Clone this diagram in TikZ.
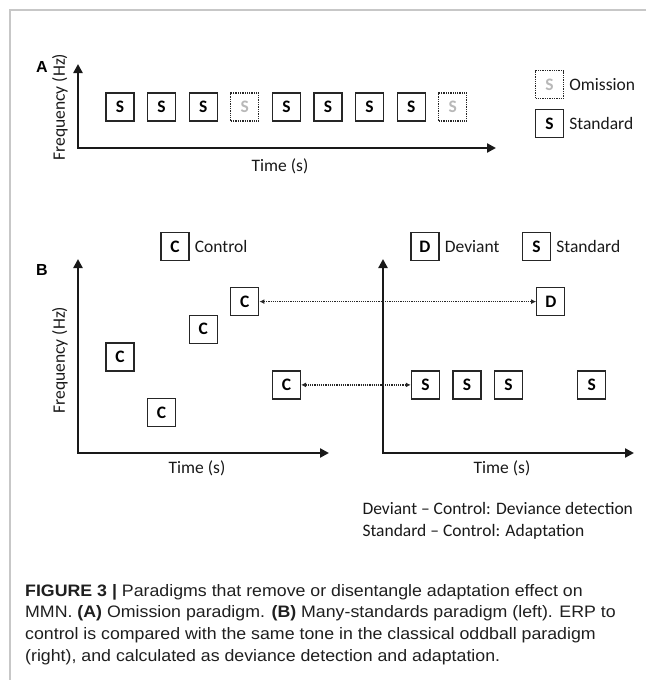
\documentclass[tikz,border=0pt]{standalone}
\usepackage{fontspec}
\setmainfont{Carlito}
\newfontfamily\capfont[FakeStretch=1.07]{Liberation Sans}
\newfontfamily\panelfont{Liberation Sans}
\usetikzlibrary{positioning}
\usetikzlibrary{arrows.meta}
\tikzset{tone/.style={draw=black!85, line width=1.3pt, minimum size=28pt, inner sep=0pt, font=\fontsize{17.5}{17.5}\selectfont\bfseries}}
\tikzset{omit/.style={tone, densely dotted, text=black!28}}
\tikzset{axis/.style={line width=2.7pt, draw=black!90, line join=miter, {Triangle[length=9pt,width=9pt]}-{Triangle[length=9pt,width=9pt]}}}
\tikzset{link/.style={densely dotted, line width=1.2pt, draw=black!85, {Latex[length=5pt,width=5pt]}-{Latex[length=5pt,width=5pt]}}}
\tikzset{lbl/.style={font=\fontsize{17.5}{17.5}\selectfont, text=black!90}}
\tikzset{panel/.style={font=\panelfont\bfseries\fontsize{16}{16}\selectfont}}

\begin{document}
\begin{tikzpicture}[x=1pt, y=-1pt, on grid]
    \useasboundingbox (0,0) rectangle (646,680);
    \coordinate (fr1) at (646,10);
    \coordinate (fr2) at (10,10);
    \coordinate (fr3) at (10,680);
    \draw[black!22, line width=1.5pt] (fr1) -- (fr2) -- (fr3);

    % A: omission paradigm
    \node[panel] (pa) at (42,67) {A};
    \coordinate (oA) at (78,148);
    \coordinate (yA) at (78,64);
    \coordinate (xA) at (496,148);
    \draw[axis] (yA) -- (oA) -- (xA);
    \node[lbl, rotate=90] (fA) at (60,107) {Frequency (Hz)};
    \node[lbl] (tA) at (280,166) {Time (s)};

    \node[tone] (s1) at (120,107) {S};
    \node[tone, right=41.6pt of s1] (s2) {S};
    \node[tone, right=41.6pt of s2] (s3) {S};
    \node[omit, right=41.6pt of s3] (s4) {S};
    \node[tone, right=41.6pt of s4] (s5) {S};
    \node[tone, right=41.6pt of s5] (s6) {S};
    \node[tone, right=41.6pt of s6] (s7) {S};
    \node[tone, right=41.6pt of s7] (s8) {S};
    \node[omit, right=41.6pt of s8] (s9) {S};

    \node[omit] (om) at (549.5,84.5) {S};
    \node[tone, below=39pt of om] (st) {S};
    \node[lbl, anchor=west, inner sep=5pt] (omt) at (om.east) {Omission};
    \node[lbl, anchor=west, inner sep=5pt] (stt) at (st.east) {Standard};

    % B: many-standards vs oddball
    \node[panel] (pb) at (42,270) {B};
    \node[tone] (lc) at (175,246.5) {C};
    \node[lbl, anchor=west, inner sep=5pt] (lct) at (lc.east) {Control};
    \node[tone] (ld) at (425,246.5) {D};
    \node[lbl, anchor=west, inner sep=5pt] (ldt) at (ld.east) {Deviant};
    \node[tone, right=111.5pt of ld] (ls) {S};
    \node[lbl, anchor=west, inner sep=5pt] (lst) at (ls.east) {Standard};

    \coordinate (oB) at (78,453);
    \coordinate (yB) at (78,259);
    \coordinate (xB) at (329,453);
    \draw[axis] (yB) -- (oB) -- (xB);
    \coordinate (oC) at (383,453);
    \coordinate (yC) at (383,259);
    \coordinate (xC) at (634,453);
    \draw[axis] (yC) -- (oC) -- (xC);
    \node[lbl, rotate=90] (fB) at (60,360) {Frequency (Hz)};
    \node[lbl] (tB) at (197,468) {Time (s)};
    \node[lbl] (tC) at (502,468) {Time (s)};

    \node[tone] (c1) at (120,357) {C};
    \node[tone, below right=55.4pt and 41.6pt of c1] (c2) {C};
    \node[tone, above right=27.7pt and 83.2pt of c1] (c3) {C};
    \node[tone, above right=27.7pt and 41.6pt of c3] (c4) {C};
    \node[tone, below right=83.3pt and 41.6pt of c4] (c5) {C};

    \node[tone, right=306pt of c4] (d1) {D};
    \node[tone, right=139pt of c5] (o1) {S};
    \node[tone, right=41.6pt of o1] (o2) {S};
    \node[tone, right=41.6pt of o2] (o3) {S};
    \node[tone, right=83.2pt of o3] (o4) {S};

    \draw[link] (c4) -- (d1);
    \draw[link] (c5) -- (o1);

    \node[lbl, anchor=west, align=left, font=\fontsize{17.5}{22}\selectfont] (note) at (359,521)
     {Deviant – Control: Deviance detection\\Standard – Control: Adaptation};

    % caption
    \node[anchor=north west, align=left, inner sep=0pt, text=black!88,
     font=\capfont\fontsize{16.6}{21.7}\selectfont] (cap) at (25,584)
     {\textbf{FIGURE 3 |} Paradigms that remove or disentangle adaptation effect on\\
      MMN. \textbf{(A)} Omission paradigm. \textbf{(B)} Many-standards paradigm (left). ERP to\\
      control is compared with the same tone in the classical oddball paradigm\\
      (right), and calculated as deviance detection and adaptation.};
\end{tikzpicture}
\end{document}
